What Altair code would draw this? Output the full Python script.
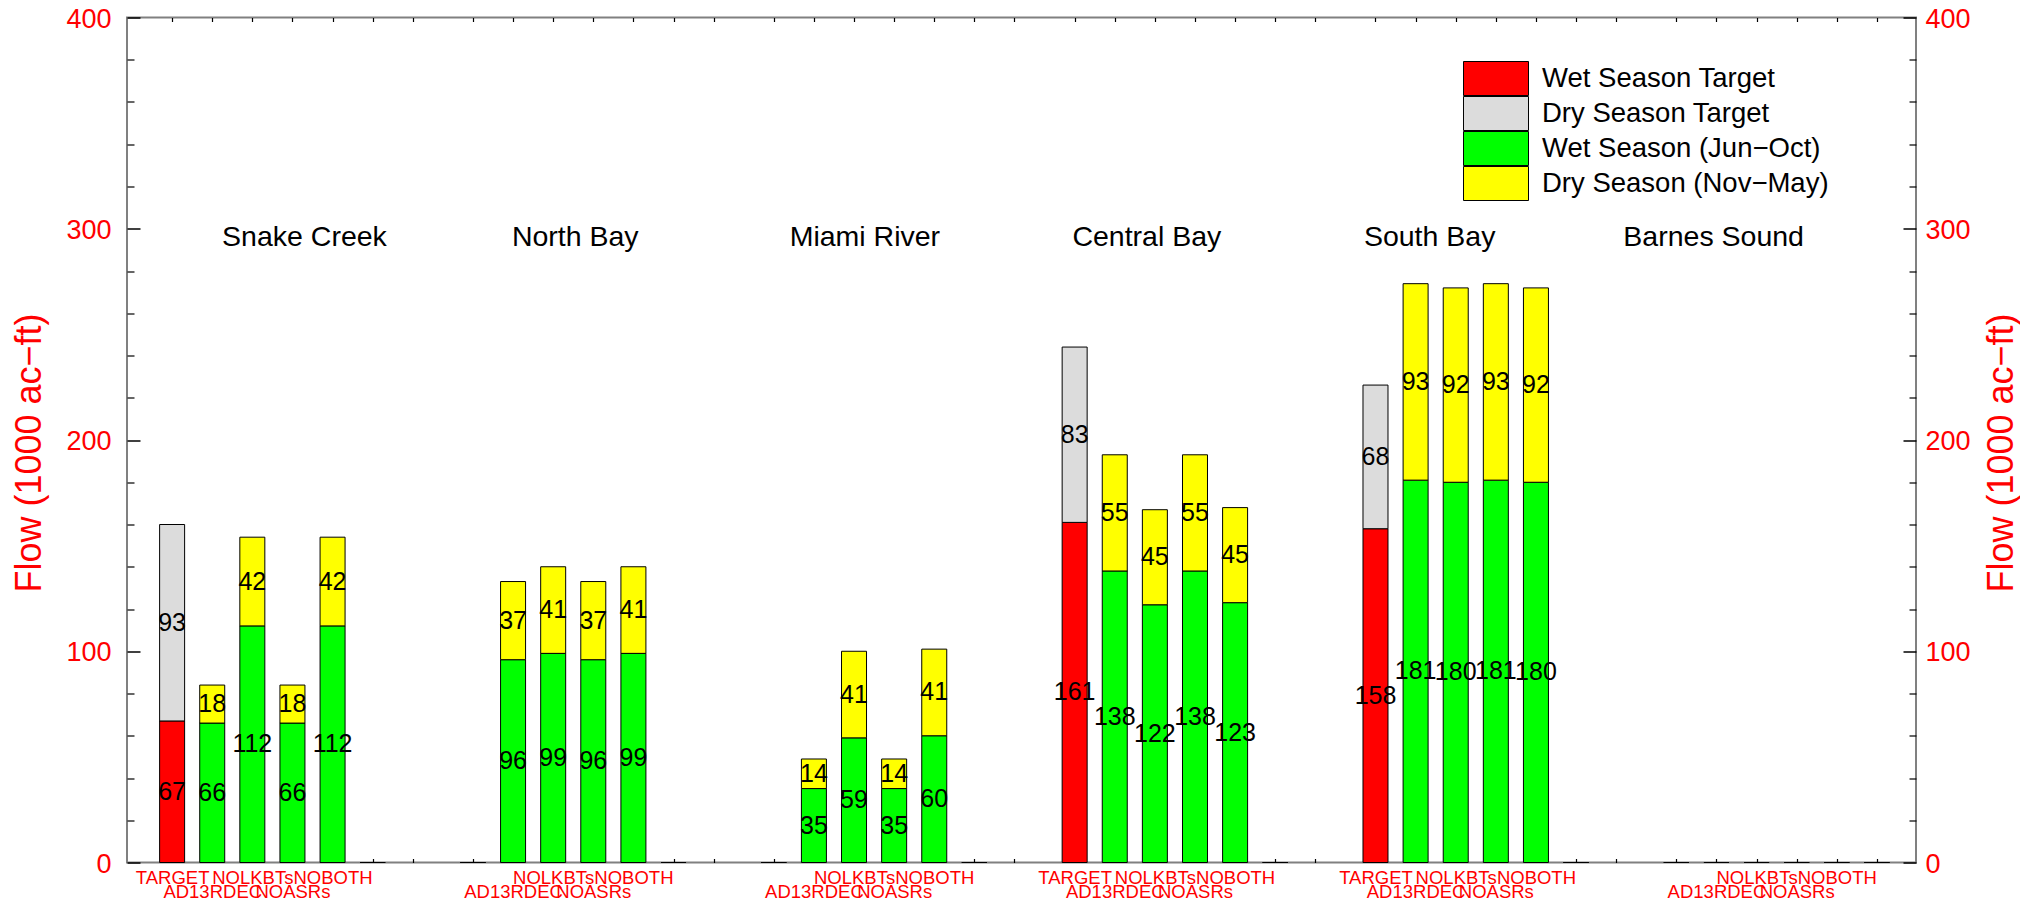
import altair as alt
import pandas as pd

# ---- data ----
groups = ["Snake Creek", "North Bay", "Miami River", "Central Bay", "South Bay", "Barnes Sound"]
scenarios = ["TARGET", "AD13RDEC", "NOLKBTs", "NOASRs", "NOBOTH"]
series = ["Wet Season Target", "Dry Season Target", "Wet Season (Jun\u2212Oct)", "Dry Season (Nov\u2212May)"]
series_colors = ["#FF0000", "#DCDCDC", "#00FF00", "#FFFF00"]

target_wet = [67, 0, 0, 161, 158, 0]
target_dry = [93, 0, 0, 83, 68, 0]
ad13rdec_wet = [66, 96, 35, 138, 181, 0]
ad13rdec_dry = [18, 37, 14, 55, 93, 0]
nolkbts_wet = [112, 99, 59, 122, 180, 0]
nolkbts_dry = [42, 41, 41, 45, 92, 0]
noasrs_wet = [66, 96, 35, 138, 181, 0]
noasrs_dry = [18, 37, 14, 55, 93, 0]
noboth_wet = [112, 99, 60, 123, 180, 0]
noboth_dry = [42, 41, 41, 45, 92, 0]

title_pos = [3.3, 10.05, 17.27, 24.3, 31.35, 38.43]
title_level = 296
y_major = [0, 100, 200, 300, 400]
y_minor = [v for v in range(20, 400, 20) if v % 100]

# ---- layout constants ----
GROUP_STEP = 7.5
SLOTS = 6
X_DOMAIN = [-1, 43.35]

wet_by = [target_wet, ad13rdec_wet, nolkbts_wet, noasrs_wet, noboth_wet]
dry_by = [target_dry, ad13rdec_dry, nolkbts_dry, noasrs_dry, noboth_dry]

rows = []
for g, grp in enumerate(groups):
    for s in range(SLOTS):
        pos = g * GROUP_STEP + s
        if s < len(scenarios):
            w, d = wet_by[s][g], dry_by[s][g]
        else:
            w, d = 0, 0
        wser = series[0] if s == 0 else series[2]
        dser = series[1] if s == 0 else series[3]
        rows.append(dict(pos=pos, series=wser, y0=0, y1=w, value=w))
        rows.append(dict(pos=pos, series=dser, y0=w, y1=w + d, value=d))
bar_df = pd.DataFrame(rows)
lab_df = bar_df[bar_df["value"] > 0].copy()
lab_df["mid"] = (lab_df["y0"] + lab_df["y1"]) / 2
lab_df["txt"] = lab_df["value"].astype(int).astype(str)

title_df = pd.DataFrame(dict(name=groups, tx=title_pos, ty=[title_level] * len(groups)))

tick_pos = [g * GROUP_STEP + s for g in range(len(groups)) for s in range(SLOTS + 1)
            if g * GROUP_STEP + s <= X_DOMAIN[1]]
row1 = []
row2 = []
for g in range(len(groups)):
    for s in range(len(scenarios)):
        p = g * GROUP_STEP + s
        if s == 0 and target_wet[g] + target_dry[g] == 0:
            continue
        (row1 if s % 2 == 0 else row2).append(p)

names_js = "[" + ",".join("'%s'" % n for n in scenarios) + "]"
label_expr = names_js + "[round(datum.value - floor(datum.value / %s) * %s)]" % (GROUP_STEP, GROUP_STEP)

FONT = "Liberation Sans"
RED = "#FF0000"

xs = alt.Scale(domain=X_DOMAIN, nice=False, zero=False)
ys = alt.Scale(domain=[0, 400], nice=False, zero=False)

W, H = 1789, 845

# legend swatch: 65 x 34 px rectangle, symbol scale = sqrt(1156)/2 = 17 px per unit
SWATCH_PATH = "M-1.912,-1H1.912V1H-1.912Z"

bars = alt.Chart(bar_df).mark_bar(size=25, stroke="black", strokeWidth=1).encode(
    x=alt.X("pos:Q", scale=xs, axis=alt.Axis(orient="bottom", values=tick_pos, labels=False,
                                             domain=False, grid=False, tickSize=4, offset=-4,
                                             tickColor="black", tickWidth=1.2, title=None)),
    y=alt.Y("y0:Q", scale=ys, axis=alt.Axis(orient="left", values=y_major, domain=False, grid=False,
                                            tickSize=13, offset=-13, tickColor="black", tickWidth=1.5,
                                            labelColor=RED, labelFontSize=27, labelFont=FONT,
                                            labelPadding=16, labelOffset=1.5,
                                            title="Flow (1000 ac\u2212ft)", titleColor=RED,
                                            titleFontSize=36, titleFont=FONT, titleFontWeight="normal",
                                            titleX=-111, titleY=435, titleAngle=270,
                                            titleAlign="center", titleBaseline="middle")),
    y2="y1:Q",
    color=alt.Color("series:N", scale=alt.Scale(domain=series, range=series_colors),
                    legend=alt.Legend(title=None, orient="none", legendX=1336, legendY=43.5,
                                      direction="vertical",
                                      symbolType=SWATCH_PATH, symbolSize=1156,
                                      symbolOffset=15.5, clipHeight=35,
                                      symbolStrokeColor="black", symbolStrokeWidth=1,
                                      symbolOpacity=1, labelFontSize=27.5, labelFont=FONT,
                                      labelColor="black", labelOffset=28.5, rowPadding=0,
                                      padding=0, labelLimit=500)),
)

labels = alt.Chart(lab_df).mark_text(fontSize=25, font=FONT, color="black",
                                     align="center", baseline="middle").encode(
    x=alt.X("pos:Q", scale=xs, axis=alt.Axis(orient="top", values=tick_pos, labels=False,
                                             domain=False, grid=False, tickSize=4, offset=-4,
                                             tickColor="black", tickWidth=1.2, title=None)),
    y=alt.Y("mid:Q", scale=ys, axis=alt.Axis(orient="right", values=y_major, domain=False, grid=False,
                                             tickSize=13, offset=-13, tickColor="black", tickWidth=1.5,
                                             labelColor=RED, labelFontSize=27, labelFont=FONT,
                                             labelPadding=9, labelOffset=1.5,
                                             title="Flow (1000 ac\u2212ft)", titleColor=RED,
                                             titleFontSize=36, titleFont=FONT, titleFontWeight="normal",
                                             titleX=98, titleY=435, titleAngle=270,
                                             titleAlign="center", titleBaseline="middle")),
    text="txt:N",
)

titles = alt.Chart(title_df).mark_text(fontSize=28.5, font=FONT, color="black",
                                       align="center", baseline="middle").encode(
    x=alt.X("tx:Q", scale=xs, axis=alt.Axis(orient="bottom", values=row1, labelExpr=label_expr,
                                            ticks=False, tickSize=0, domain=False, grid=False,
                                            labelColor=RED, labelFontSize=18.5, labelFont=FONT,
                                            labelPadding=14.5, labelBaseline="middle",
                                            labelOverlap=False, labelFlush=False, labelBound=False,
                                            title=None)),
    y=alt.Y("ty:Q", scale=ys, axis=alt.Axis(orient="left", values=y_minor, labels=False,
                                            domain=False, grid=False, tickSize=7, offset=-7,
                                            tickColor="black", tickWidth=1.2, title=None)),
    text="name:N",
)

helper = alt.Chart(bar_df).mark_point(opacity=0).encode(
    x=alt.X("pos:Q", scale=xs, axis=alt.Axis(orient="bottom", values=row2, labelExpr=label_expr,
                                             ticks=False, tickSize=0, domain=False, grid=False,
                                             labelColor=RED, labelFontSize=18.5, labelFont=FONT,
                                             labelPadding=28.5, labelBaseline="middle",
                                             labelOverlap=False, labelFlush=False, labelBound=False,
                                             title=None)),
    y=alt.Y("y1:Q", scale=ys, axis=alt.Axis(orient="right", values=y_minor, labels=False,
                                            domain=False, grid=False, tickSize=7, offset=-7,
                                            tickColor="black", tickWidth=1.2, title=None)),
)

chart = alt.layer(bars, labels, titles, helper).resolve_axis(
    x="independent", y="independent"
).properties(
    width=W, height=H,
    autosize=alt.AutoSizeParams(type="none"),
    padding={"left": 119, "top": 9.5, "right": 104, "bottom": 37.5},
    background="white",
).configure_view(stroke="#808080", strokeWidth=2)

chart.save("out.html", embed_options={"renderer": "svg", "actions": False})
